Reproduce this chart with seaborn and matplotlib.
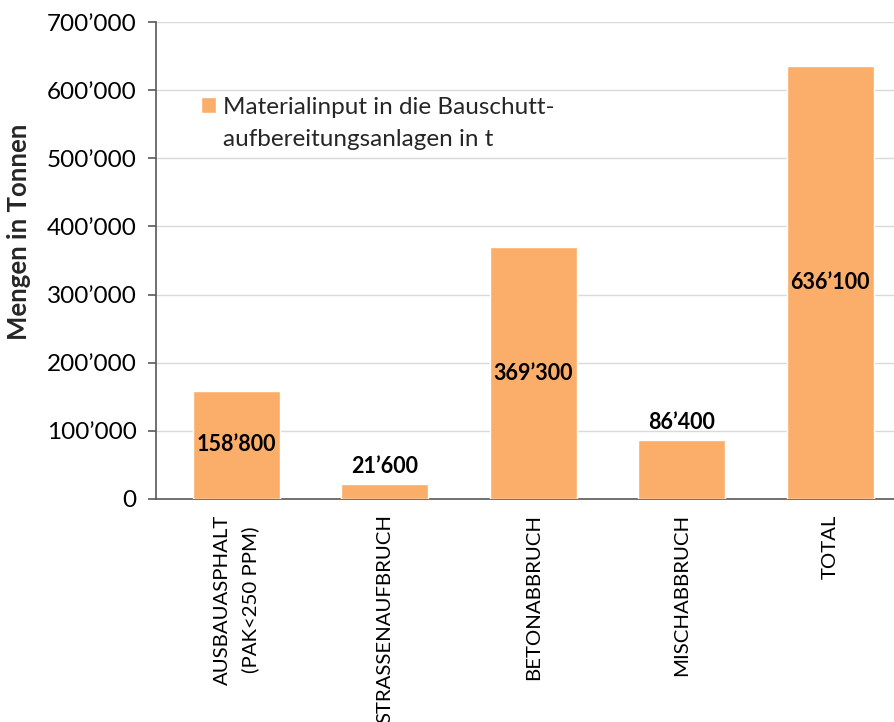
import matplotlib
matplotlib.use("Agg")
import matplotlib.pyplot as plt
import matplotlib.ticker as mticker
import pandas as pd
import seaborn as sns

categories = ["AUSBAUASPHALT\n(PAK<250 PPM)", "STRASSENAUFBRUCH", "BETONABBRUCH",
              "MISCHABBRUCH", "TOTAL"]
values = [158800, 21600, 369300, 86400, 636100]
series_name = "Materialinput in die Bauschutt-\naufbereitungsanlagen in t"
y_label = "Mengen in Tonnen"

bar_color = "#FBAD6A"
grid_color = "#D9D9D9"
axis_color = "#595959"


def fmt_thousands(v):
    return f"{int(round(v)):,}".replace(",", "\u2019")


sns.set_theme(style="white")
plt.rcParams['font.family'] = ['Lato', 'DejaVu Sans']

df = pd.DataFrame({"kategorie": categories, "menge": values})

fig = plt.figure(figsize=(8.94, 7.22), dpi=100)
ax = fig.add_axes([0.1745, 0.3089, 0.8255, 0.6606])

sns.barplot(data=df, x="kategorie", y="menge", color=bar_color, saturation=1,
            width=0.586, label=series_name, ax=ax, zorder=3)

ax.set_ylim(0, 700000)
ax.set_xlim(-0.542, 4.43)
ax.yaxis.set_major_locator(mticker.MultipleLocator(100000))
ax.yaxis.set_major_formatter(mticker.FuncFormatter(lambda v, p: fmt_thousands(v)))
ax.yaxis.grid(True, color=grid_color, linewidth=1.0, zorder=0)
ax.set_axisbelow(True)

for side in ["top", "right"]:
    ax.spines[side].set_visible(False)
for side in ["left", "bottom"]:
    ax.spines[side].set_color(axis_color)
    ax.spines[side].set_linewidth(1.2)

ax.tick_params(axis="y", which="major", left=True, length=6, width=1.2,
               color=axis_color, labelsize=17.5, labelcolor="black", pad=8)
ax.tick_params(axis="x", bottom=False, labelsize=14.7, labelcolor="black", pad=5)
for lbl in ax.get_xticklabels():
    lbl.set_rotation(90)
    lbl.set_va("top")
    lbl.set_ha("center")
    lbl.set_linespacing(1.7)

ax.set_xlabel("")
ax.set_ylabel(y_label, fontsize=18.5, fontweight="bold")
ax.yaxis.set_label_coords(-0.170, 0.56)

# labels: inside (centre) for the tall bars, above the short ones
for i, v in enumerate(values):
    if v > 120000:
        ax.text(i, v / 2, fmt_thousands(v), ha="center", va="center",
                fontsize=15.5, fontweight="bold", color="black", zorder=4)
    else:
        ax.text(i, v + 11000, fmt_thousands(v), ha="center", va="bottom",
                fontsize=15.5, fontweight="bold", color="black", zorder=4)

leg = ax.legend(loc="upper left", bbox_to_anchor=(0.061, 0.843), frameon=False,
                fontsize=17.5, handlelength=0.62, handleheight=0.62,
                handletextpad=0.3, borderpad=0, borderaxespad=0)
for t in leg.get_texts():
    t.set_linespacing(1.65)
# marker next to the first line, like the original
for col in leg._legend_handle_box.get_children():
    for item in col.get_children():
        item.align = "top"

fig.savefig("out.png", dpi=100)
